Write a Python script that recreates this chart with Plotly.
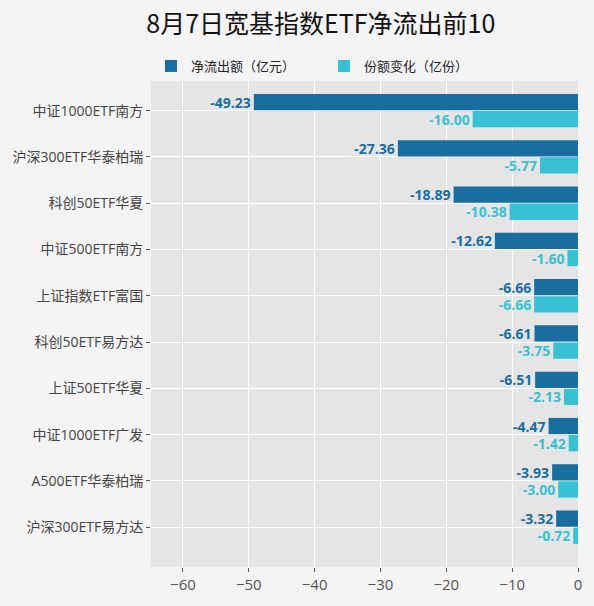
import plotly.graph_objects as go

# dados do gráfico
etfs = ['中证1000ETF南方', '沪深300ETF华泰柏瑞', '科创50ETF华夏', '中证500ETF南方',
        '上证指数ETF富国', '科创50ETF易方达', '上证50ETF华夏', '中证1000ETF广发',
        'A500ETF华泰柏瑞', '沪深300ETF易方达']
liquido = [-49.23, -27.36, -18.89, -12.62, -6.66, -6.61, -6.51, -4.47, -3.93, -3.32]
cotas = [-16.00, -5.77, -10.38, -1.60, -6.66, -3.75, -2.13, -1.42, -3.00, -0.72]
x_ticks = [-60, -50, -40, -30, -20, -10, 0]

cor_escura = '#1a6e9f'
cor_clara = '#38c0d3'
fonte = 'Open Sans, Noto Sans CJK SC, sans-serif'

fig = go.Figure()
fig.add_trace(go.Bar(name='净流出额（亿元）', y=etfs, x=liquido, orientation='h',
                     marker=dict(color=cor_escura, line=dict(width=0)),
                     text=[f'{v:.2f}' for v in liquido], textposition='outside', constraintext='none',
                     textfont=dict(color=cor_escura, size=14, family=fonte, weight='bold'),
                     cliponaxis=False))
fig.add_trace(go.Bar(name='份额变化（亿份）', y=etfs, x=cotas, orientation='h',
                     marker=dict(color=cor_clara, line=dict(width=0)),
                     text=[f'{v:.2f}' for v in cotas], textposition='outside', constraintext='none',
                     textfont=dict(color=cor_clara, size=14, family=fonte, weight='bold'),
                     cliponaxis=False))

fig.update_layout(
    width=594, height=606,
    paper_bgcolor='#f4f4f4', plot_bgcolor='#e5e5e5',
    font=dict(family=fonte, color='#555555', size=13),
    title=dict(text='8月7日宽基指数ETF净流出前10', x=0.54, xanchor='center', y=0.975, yanchor='top',
               font=dict(size=25, color='#111111', family='Noto Sans CJK SC')),
    legend=dict(orientation='h', x=0.0, xanchor='left', y=1.0, yanchor='bottom',
                font=dict(size=13, color='#222222'), bgcolor='rgba(0,0,0,0)',
                entrywidth=128, entrywidthmode='pixels', traceorder='normal'),
    barmode='group', bargap=0.26, bargroupgap=0.05,
    margin=dict(l=151, r=14, t=81, b=36),
    showlegend=True,
)
fig.update_xaxes(range=[-64.85, 0], tickvals=x_ticks, showgrid=True, gridcolor='white', gridwidth=1,
                 zeroline=False, ticks='outside', ticklen=4, tickcolor='#555555',
                 tickfont=dict(size=15, color='#555555'), showline=False)
fig.update_yaxes(autorange=False, range=[9.86, -0.64], showgrid=True, gridcolor='white', gridwidth=1,
                 ticks='outside', ticklen=4, tickcolor='#555555',
                 tickfont=dict(size=14, color='#444444'), showline=False)

fig.write_html('out.html', config={'displayModeBar': False},
               post_script="document.body.style.margin='0';")
